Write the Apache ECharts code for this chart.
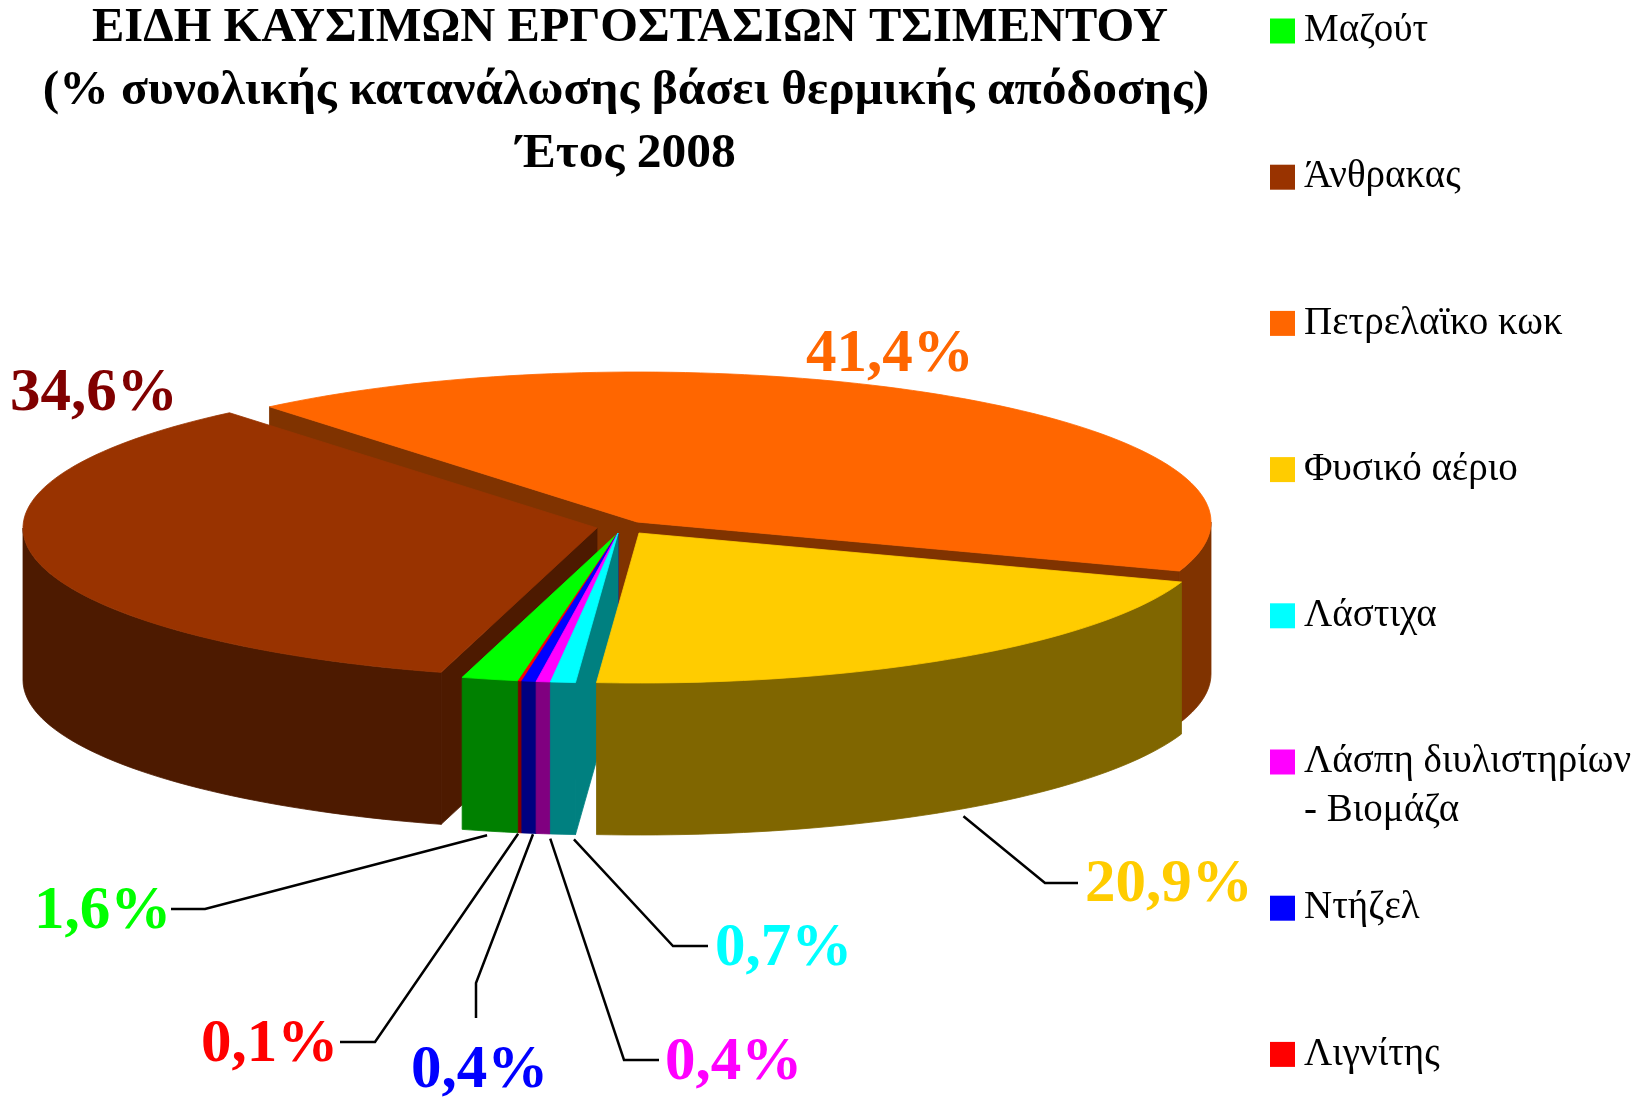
<!DOCTYPE html>
<html>
<head>
<meta charset="utf-8">
<style>
html, body { margin: 0; padding: 0; background: #fff; }
#chart { width: 1642px; height: 1097px; }
</style>
<script src="https://cdn.jsdelivr.net/npm/echarts@6/dist/echarts.min.js"></script>
</head>
<body>
<div id="chart"></div>
<script>
var fuels = ['Μαζούτ', 'Άνθρακας', 'Πετρελαϊκο κωκ', 'Φυσικό αέριο', 'Λάστιχα', 'Λάσπη διυλιστηρίων - Βιομάζα', 'Ντήζελ', 'Λιγνίτης'];
var shares = [1.6, 34.6, 41.4, 20.9, 0.7, 0.4, 0.4, 0.1];
var topColors = ['#00FF00', '#993300', '#FF6600', '#FFCC00', '#00FFFF', '#FF00FF', '#0000FF', '#FF0000'];
var wallColors = ['#008000', '#4D1A00', '#803300', '#806600', '#008080', '#800080', '#000080', '#800000'];
var labelColors = ['#00FF00', '#800000', '#FF6600', '#FFCC00', '#00FFFF', '#FF00FF', '#0000FF', '#FF0000'];

// το κέντρο κάθε φέτας (οι εκρηγμένες φέτες έχουν δικό τους)
var pieX = 618, pieY = 533, rx = 574, ry = 150, depth = 152, firstAngle = 190;
var explode = [[0, 0], [-21, -5], [19, -11], [21, 0], [0, 0], [0, 0], [0, 0], [0, 0]];
// θέση ετικέτας και γραμμής οδηγού, [αριστερά, baseline]
var labelPos = [[34, 943], [10, 425], [806, 386], [1085, 916], [715, 980], [665, 1094], [411, 1102], [201, 1076]];
var leaderMid = [[[205, 909], [171, 909]], null, null, [[1045, 883], [1078, 883]], [[673, 946], [708, 946]], [[624, 1060], [659, 1060]], [[476, 983], [476, 1018]], [[375, 1042], [340, 1042]]];
var leaderShift = [[-3, 4], null, null, [9, 6], [11, 5], [7, 5], [4, 1], [-2, 1]];
// σειρά σχεδίασης, πίσω προς τα μπροστά
var drawOrder = [2, 1, 0, 7, 6, 5, 4, 3];

var total = shares.reduce(function (a, b) { return a + b; }, 0);
var angles = [], acc = firstAngle;
shares.forEach(function (v) {
    var a0 = acc;
    acc += v / total * 360;
    angles.push([a0, acc]);
});

function rim(i, t, down) {
    var r = t * Math.PI / 180;
    return [pieX + explode[i][0] + rx * Math.sin(r), pieY + explode[i][1] - ry * Math.cos(r) + (down || 0)];
}

function arcPoints(i, t0, t1, down) {
    var pts = [], n = Math.max(2, Math.ceil((t1 - t0) / 1.5));
    for (var k = 0; k <= n; k++) pts.push(rim(i, t0 + (t1 - t0) * k / n, down));
    return pts;
}

function poly(points, color) {
    return { type: 'polygon', silent: true, shape: { points: points }, style: { fill: color, stroke: color, lineWidth: 0.8 } };
}

function renderSlice(i) {
    var t0 = angles[i][0], t1 = angles[i][1];
    var cx = pieX + explode[i][0], cy = pieY + explode[i][1];
    var kids = [];
    // κομμένες πλευρές
    [t0, t1].forEach(function (t, side) {
        var s = Math.sin(t * Math.PI / 180);
        if ((side === 0 && s < 0) || (side === 1 && s > 0)) {
            var p = rim(i, t);
            kids.push(poly([[cx, cy], p, [p[0], p[1] + depth], [cx, cy + depth]], wallColors[i]));
        }
    });
    // εξωτερικό τοίχωμα
    [[90, 270], [450, 630]].forEach(function (w) {
        var a = Math.max(t0, w[0]), b = Math.min(t1, w[1]);
        if (a < b) {
            kids.push(poly(arcPoints(i, a, b).concat(arcPoints(i, a, b, depth).reverse()), wallColors[i]));
        }
    });
    // πάνω επιφάνεια
    kids.push(poly([[cx, cy]].concat(arcPoints(i, t0, t1)), topColors[i]));
    // γραμμή οδηγός
    if (leaderMid[i]) {
        var s = rim(i, (t0 + t1) / 2, depth);
        kids.push({
            type: 'polyline', silent: true,
            shape: { points: [[s[0] + leaderShift[i][0], s[1] + leaderShift[i][1]], leaderMid[i][0], leaderMid[i][1]] },
            style: { stroke: '#000', lineWidth: 2.5, fill: null }
        });
    }
    kids.push({
        type: 'text', silent: true,
        style: {
            x: labelPos[i][0], y: labelPos[i][1],
            text: shares[i].toFixed(1).replace('.', ',') + '%',
            fill: labelColors[i],
            font: 'bold 61px "Liberation Serif"',
            align: 'left', verticalAlign: 'bottom'
        }
    });
    return { type: 'group', children: kids };
}

var myChart = echarts.init(document.getElementById('chart'));

var option = {
    animation: false,
    backgroundColor: '#fff',
    title: {
        text: '{a|ΕΙΔΗ ΚΑΥΣΙΜΩΝ ΕΡΓΟΣΤΑΣΙΩΝ ΤΣΙΜΕΝΤΟΥ}\n{b|(% συνολικής κατανάλωσης βάσει θερμικής απόδοσης)}\n{c|Έτος 2008}',
        left: 625,
        top: -8,
        textAlign: 'center',
        textStyle: {
            rich: {
                a: { fontFamily: 'Liberation Serif', fontWeight: 'bold', fontSize: 48.5, lineHeight: 63, color: '#000' },
                b: { fontFamily: 'Liberation Serif', fontWeight: 'bold', fontSize: 49.5, lineHeight: 63, color: '#000', padding: [0, 8, 0, 0] },
                c: { fontFamily: 'Liberation Serif', fontWeight: 'bold', fontSize: 49.5, lineHeight: 63, color: '#000', padding: [0, 8, 0, 0] }
            }
        }
    },
    legend: {
        orient: 'vertical',
        left: 1265,
        top: 6,
        icon: 'rect',
        itemWidth: 25,
        itemHeight: 25,
        itemGap: 106.2,
        selectedMode: false,
        data: fuels,
        formatter: function (name) { return name.split(' - ')[0]; },
        textStyle: {
            fontFamily: 'Liberation Serif',
            fontSize: 39,
            lineHeight: 40,
            color: '#000',
            padding: [0, 0, 0, 4]
        }
    },
    graphic: [{
        type: 'text',
        left: 1304,
        top: 791,
        style: { text: '- Βιομάζα', fill: '#000', font: '39px "Liberation Serif"' }
    }],
    series: drawOrder.map(function (i) {
        return {
            type: 'custom',
            name: fuels[i],
            coordinateSystem: 'none',
            itemStyle: { color: topColors[i] },
            data: [shares[i]],
            renderItem: function () { return renderSlice(i); }
        };
    })
};

myChart.setOption(option);
</script>
</body>
</html>
